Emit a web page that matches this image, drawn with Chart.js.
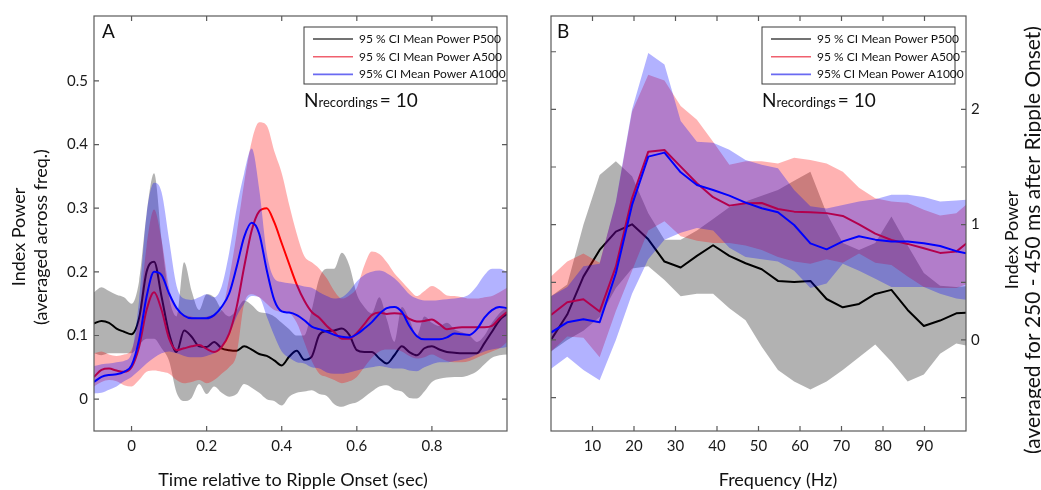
<!DOCTYPE html>
<html>
<head>
<meta charset="utf-8">
<title>Index power around ripple onset</title>
<script src="https://cdn.jsdelivr.net/npm/chart.js@4.4.1/dist/chart.umd.min.js"></script>
<style>
  html, body { margin: 0; padding: 0; background: #fff; }
  #wrap { position: relative; width: 1041px; height: 490px; overflow: hidden; }
  #timeChart { position: absolute; left: 0; top: 0; }
  #freqChart { position: absolute; left: 530px; top: 0; }
</style>
</head>
<body>
<div id="wrap">
  <canvas id="timeChart" width="530" height="490"></canvas>
  <canvas id="freqChart" width="511" height="490"></canvas>
</div>
<script>
var FONT = 'Lato, "Noto Sans", sans-serif';

var seriesNames = ['95 % CI Mean Power P500', '95 % CI Mean Power A500', '95% CI Mean Power A1000'];
var lineColors = ['#000000', '#ff0000', '#0000ff'];
var bandColors = ['rgba(0,0,0,0.3)', 'rgba(255,0,0,0.3)', 'rgba(0,0,255,0.3)'];
var legendColors = ['#454545', '#f0606e', '#6a6af2'];
var nRecordings = 10;

// A: power averaged across frequencies, vs time from ripple onset
var timeSec = [-0.10, -0.08, -0.06, -0.04, -0.02, 0, 0.02, 0.04, 0.06, 0.08,
  0.10, 0.12, 0.14, 0.16, 0.18, 0.20, 0.22, 0.24, 0.26, 0.28,
  0.30, 0.32, 0.34, 0.36, 0.38, 0.40, 0.42, 0.44, 0.46, 0.48,
  0.50, 0.52, 0.54, 0.56, 0.58, 0.60, 0.62, 0.64, 0.66, 0.68,
  0.70, 0.72, 0.74, 0.76, 0.78, 0.80, 0.82, 0.84, 0.86, 0.88,
  0.90, 0.92, 0.94, 0.96, 0.98, 1.00];

var p500Time = [0.119, 0.123, 0.120, 0.111, 0.106, 0.102, 0.127, 0.200, 0.216, 0.161,
  0.103, 0.074, 0.108, 0.098, 0.083, 0.082, 0.090, 0.080, 0.077, 0.076,
  0.083, 0.078, 0.071, 0.068, 0.061, 0.053, 0.067, 0.076, 0.062, 0.067,
  0.101, 0.107, 0.108, 0.111, 0.101, 0.077, 0.074, 0.074, 0.064, 0.056,
  0.069, 0.083, 0.074, 0.069, 0.080, 0.083, 0.078, 0.074, 0.073, 0.072,
  0.072, 0.072, 0.088, 0.106, 0.124, 0.134];
var p500TimeHi = [0.168, 0.176, 0.170, 0.164, 0.160, 0.150, 0.185, 0.290, 0.355, 0.250,
  0.160, 0.130, 0.215, 0.170, 0.140, 0.165, 0.160, 0.140, 0.130, 0.140,
  0.155, 0.148, 0.137, 0.135, 0.130, 0.120, 0.110, 0.100, 0.100, 0.140,
  0.190, 0.205, 0.205, 0.230, 0.210, 0.165, 0.145, 0.135, 0.160, 0.125,
  0.090, 0.145, 0.125, 0.100, 0.130, 0.120, 0.115, 0.120, 0.110, 0.105,
  0.100, 0.090, 0.100, 0.120, 0.135, 0.145];
var p500TimeLo = [0.072, 0.069, 0.072, 0.072, 0.072, 0.072, 0.085, 0.095, 0.095, 0.080,
  0.060, 0.010, -0.003, 0.002, 0.024, 0.008, 0.020, 0.010, 0.004, 0.008,
  0.024, 0.018, 0.010, 0.000, -0.003, -0.010, 0.004, 0.010, 0.012, 0.014,
  0.008, 0.005, -0.008, -0.012, -0.008, -0.005, 0.003, 0.012, 0.020, 0.022,
  0.015, 0.012, 0.002, 0.001, 0.012, 0.027, 0.032, 0.034, 0.035, 0.035,
  0.038, 0.044, 0.055, 0.065, 0.069, 0.070];

var a500Time = [0.035, 0.046, 0.048, 0.045, 0.043, 0.050, 0.082, 0.140, 0.168, 0.140,
  0.095, 0.077, 0.080, 0.083, 0.085, 0.079, 0.074, 0.082, 0.103, 0.145,
  0.208, 0.265, 0.295, 0.300, 0.278, 0.245, 0.212, 0.180, 0.155, 0.137,
  0.128, 0.115, 0.105, 0.095, 0.095, 0.104, 0.118, 0.132, 0.136, 0.134,
  0.135, 0.134, 0.126, 0.122, 0.123, 0.125, 0.118, 0.110, 0.112, 0.113,
  0.113, 0.113, 0.113, 0.115, 0.127, 0.137];
var a500TimeHi = [0.072, 0.075, 0.070, 0.068, 0.070, 0.078, 0.130, 0.240, 0.298, 0.250,
  0.175, 0.140, 0.133, 0.130, 0.128, 0.130, 0.133, 0.140, 0.190, 0.260,
  0.340, 0.405, 0.435, 0.430, 0.390, 0.355, 0.305, 0.260, 0.225, 0.215,
  0.205, 0.190, 0.170, 0.158, 0.163, 0.175, 0.210, 0.232, 0.228, 0.215,
  0.198, 0.185, 0.172, 0.162, 0.170, 0.178, 0.172, 0.163, 0.162, 0.160,
  0.158, 0.158, 0.160, 0.162, 0.168, 0.175];
var a500TimeLo = [0.020, 0.027, 0.030, 0.028, 0.022, 0.020, 0.030, 0.043, 0.045, 0.043,
  0.040, 0.030, 0.025, 0.027, 0.030, 0.025, 0.030, 0.040, 0.050, 0.070,
  0.150, 0.165, 0.160, 0.150, 0.140, 0.137, 0.135, 0.120, 0.090, 0.060,
  0.040, 0.035, 0.030, 0.025, 0.028, 0.035, 0.050, 0.065, 0.075, 0.078,
  0.078, 0.075, 0.068, 0.064, 0.066, 0.070, 0.065, 0.060, 0.058, 0.058,
  0.060, 0.065, 0.070, 0.075, 0.080, 0.090];

var a1000Time = [0.027, 0.035, 0.038, 0.039, 0.043, 0.053, 0.093, 0.161, 0.200, 0.195,
  0.166, 0.143, 0.131, 0.127, 0.127, 0.127, 0.132, 0.145, 0.166, 0.208,
  0.255, 0.277, 0.260, 0.203, 0.156, 0.138, 0.136, 0.132, 0.124, 0.114,
  0.110, 0.106, 0.101, 0.098, 0.097, 0.102, 0.111, 0.121, 0.134, 0.143,
  0.145, 0.137, 0.115, 0.099, 0.094, 0.094, 0.094, 0.097, 0.103, 0.102,
  0.101, 0.110, 0.128, 0.140, 0.145, 0.143];
var a1000TimeHi = [0.052, 0.055, 0.056, 0.058, 0.060, 0.072, 0.155, 0.290, 0.340, 0.325,
  0.250, 0.178, 0.158, 0.156, 0.160, 0.165, 0.160, 0.177, 0.230, 0.300,
  0.355, 0.394, 0.330, 0.230, 0.190, 0.184, 0.182, 0.180, 0.177, 0.175,
  0.168, 0.162, 0.158, 0.160, 0.170, 0.185, 0.195, 0.200, 0.202, 0.198,
  0.190, 0.178, 0.165, 0.158, 0.155, 0.155, 0.156, 0.157, 0.158, 0.160,
  0.165, 0.178, 0.195, 0.205, 0.205, 0.200];
var a1000TimeLo = [0.009, 0.010, 0.015, 0.020, 0.028, 0.035, 0.045, 0.056, 0.065, 0.072,
  0.075, 0.072, 0.068, 0.066, 0.066, 0.068, 0.072, 0.080, 0.100, 0.130,
  0.150, 0.162, 0.160, 0.130, 0.100, 0.075, 0.065, 0.058, 0.056, 0.050,
  0.048, 0.042, 0.040, 0.040, 0.042, 0.045, 0.048, 0.050, 0.052, 0.050,
  0.048, 0.048, 0.045, 0.044, 0.050, 0.055, 0.058, 0.058, 0.060, 0.062,
  0.065, 0.070, 0.075, 0.078, 0.080, 0.082];

// B: power 250-450 ms after onset, per frequency bin
var freqHz = [0, 3.91, 7.81, 11.72, 15.63, 19.53, 23.44, 27.34, 31.25, 35.16,
  39.06, 42.97, 46.88, 50.78, 54.69, 58.59, 62.5, 66.41, 70.31, 74.22,
  78.13, 82.03, 85.94, 89.84, 93.75, 97.66, 101.56];

var p500Freq = [0, 0.22, 0.549, 0.781, 0.94, 1.003, 0.873, 0.68, 0.628, 0.729,
  0.821, 0.729, 0.665, 0.613, 0.512, 0.503, 0.512, 0.355, 0.283, 0.312,
  0.399, 0.434, 0.26, 0.121, 0.168, 0.231, 0.24];
var p500FreqHi = [0.38, 0.48, 1.0, 1.43, 1.55, 1.42, 1.1, 0.87, 0.87, 0.95,
  1.05, 1.15, 1.2, 1.25, 1.3, 1.38, 1.46, 1.1, 0.84, 0.78,
  0.84, 1.07, 0.82, 0.58, 0.47, 0.46, 0.47];
var p500FreqLo = [-0.1, 0.0, 0.08, 0.2, 0.45, 0.62, 0.64, 0.52, 0.38, 0.4,
  0.4, 0.275, 0.17, -0.06, -0.26, -0.36, -0.43, -0.36, -0.26, -0.15,
  -0.04, -0.19, -0.36, -0.3, -0.12, -0.03, -0.06];

var a500Freq = [0.217, 0.327, 0.353, 0.246, 0.636, 1.229, 1.633, 1.648, 1.503, 1.359,
  1.238, 1.165, 1.185, 1.188, 1.136, 1.113, 1.108, 1.1, 1.076, 1.003,
  0.922, 0.867, 0.833, 0.795, 0.755, 0.766, 0.88];
var a500FreqHi = [0.55, 0.68, 0.75, 0.67, 1.19, 1.98, 2.3, 2.25, 2.03, 1.91,
  1.72, 1.52, 1.55, 1.55, 1.53, 1.58, 1.56, 1.53, 1.46, 1.32,
  1.23, 1.2, 1.19, 1.13, 1.08, 1.1, 1.22];
var a500FreqLo = [-0.1, 0.03, 0.02, -0.15, 0.25, 0.6, 0.95, 1.03, 0.9, 0.86,
  0.84, 0.84, 0.82, 0.78, 0.72, 0.68, 0.66, 0.7, 0.67, 0.75,
  0.67, 0.65, 0.55, 0.46, 0.45, 0.45, 0.5];

var a1000Freq = [0.064, 0.153, 0.179, 0.153, 0.578, 1.171, 1.59, 1.625, 1.454, 1.344,
  1.301, 1.252, 1.191, 1.142, 1.107, 0.997, 0.838, 0.786, 0.855, 0.9,
  0.87, 0.853, 0.853, 0.838, 0.815, 0.77, 0.74];
var a1000FreqHi = [0.38, 0.46, 0.64, 0.66, 1.2, 2.0, 2.49, 2.39, 1.9, 1.72,
  1.71, 1.65, 1.56, 1.52, 1.49, 1.3, 1.16, 1.14, 1.17, 1.2,
  1.22, 1.26, 1.26, 1.24, 1.2, 1.21, 1.22];
var a1000FreqLo = [-0.25, -0.145, -0.26, -0.35, 0.0, 0.4, 0.7, 0.87, 0.93, 0.97,
  0.95, 0.8, 0.72, 0.7, 0.68, 0.6, 0.45, 0.49, 0.66, 0.6,
  0.53, 0.46, 0.46, 0.46, 0.4, 0.36, 0.34];

// tick positions
var timeTicks = [0, 0.2, 0.4, 0.6, 0.8];
var timePowerTicks = [0, 0.1, 0.2, 0.3, 0.4, 0.5];
var freqTicks = [10, 20, 30, 40, 50, 60, 70, 80, 90];
var freqPowerTicks = [-0.5, 0, 0.5, 1, 1.5, 2, 2.5];

function pts(xs, ys) {
    return xs.map(function(x, i) { return {x: x, y: ys[i]}; });
}

// mean line + shaded CI band per series; later series sit on top
function buildDatasets(xs, groups, smooth) {
    var sets = [];
    groups.forEach(function(g, s) {
        var base = sets.length;
        var depth = (groups.length - 1 - s) * 2;
        sets.push({ label: seriesNames[s], data: pts(xs, g[0]), borderColor: lineColors[s],
            borderWidth: 2, order: depth + 1, legendColor: legendColors[s] });
        sets.push({ label: seriesNames[s] + ' upper', data: pts(xs, g[1]), borderColor: 'transparent',
            backgroundColor: bandColors[s], borderWidth: 1, fill: base + 2, order: depth + 2, band: true });
        sets.push({ label: seriesNames[s] + ' lower', data: pts(xs, g[2]), borderColor: 'transparent',
            borderWidth: 1, fill: false, order: 20, band: true });
    });
    sets.forEach(function(d) {
        d.pointRadius = 0;
        d.clip = 0;
        d.borderJoinStyle = 'round';
        if (smooth) d.cubicInterpolationMode = 'monotone';
        else d.tension = 0;
    });
    return sets;
}

function drawRotated(ctx, text, x, y) {
    ctx.save();
    ctx.translate(x, y);
    ctx.rotate(-Math.PI / 2);
    ctx.fillText(text, 0, 0);
    ctx.restore();
}

// box, inward ticks, panel letter, legend, N label and axis titles
var panelDecor = {
    id: 'panelDecor',
    afterDraw: function(chart, args, o) {
        var ctx = chart.ctx, a = chart.chartArea;
        var xs = chart.scales.x, ys = chart.scales.y;
        ctx.save();

        ctx.strokeStyle = '#5a5a5a';
        ctx.lineWidth = 1.2;
        ctx.strokeRect(a.left, a.top, a.right - a.left, a.bottom - a.top);
        ctx.beginPath();
        xs.ticks.forEach(function(t) {
            var p = xs.getPixelForValue(t.value);
            ctx.moveTo(p, a.bottom); ctx.lineTo(p, a.bottom - 5);
            ctx.moveTo(p, a.top); ctx.lineTo(p, a.top + 5);
        });
        ys.ticks.forEach(function(t) {
            var p = ys.getPixelForValue(t.value);
            ctx.moveTo(a.left, p); ctx.lineTo(a.left + 5, p);
            ctx.moveTo(a.right, p); ctx.lineTo(a.right - 5, p);
        });
        ctx.stroke();

        ctx.fillStyle = '#111';
        ctx.textAlign = 'left';
        ctx.textBaseline = 'alphabetic';
        ctx.font = '19px ' + FONT;
        ctx.fillText(o.letter, a.left + o.letterDx, a.top + 22);

        // legend
        var lw = 193, lh = 57;
        var lx = a.right - o.legendRight - lw, ly = a.top + 11;
        ctx.fillStyle = '#fff';
        ctx.fillRect(lx, ly, lw, lh);
        ctx.strokeStyle = '#3a3a3a';
        ctx.lineWidth = 1;
        ctx.strokeRect(lx, ly, lw, lh);
        ctx.font = '12px ' + FONT;
        ctx.textBaseline = 'middle';
        chart.data.datasets.filter(function(d) { return !d.band; }).forEach(function(d, i) {
            var y = ly + 12 + i * 17.7;
            ctx.strokeStyle = d.legendColor;
            ctx.lineWidth = 1.6;
            ctx.beginPath(); ctx.moveTo(lx + 9, y); ctx.lineTo(lx + 49, y); ctx.stroke();
            ctx.fillStyle = '#111';
            ctx.fillText(d.label, lx + 55, y);
        });

        // N recordings
        ctx.textBaseline = 'alphabetic';
        var nx = lx, ny = a.top + 91;
        ctx.font = '19px ' + FONT;
        ctx.fillText('N', nx, ny);
        nx += ctx.measureText('N').width;
        ctx.font = '13px ' + FONT;
        ctx.fillText('recordings', nx, ny);
        nx += ctx.measureText('recordings').width + 2;
        ctx.font = '19px ' + FONT;
        ctx.fillText('= ' + nRecordings, nx, ny);

        // axis titles
        ctx.font = '18px ' + FONT;
        ctx.textAlign = 'center';
        ctx.textBaseline = 'middle';
        ctx.fillText(o.xTitle, o.xTitleX, 480);
        o.yTitle.forEach(function(line, i) {
            ctx.font = o.yTitleSize[i] + 'px ' + FONT;
            drawRotated(ctx, line, o.yTitleX[i], o.yTitleY);
        });
        ctx.restore();
    }
};

function axisFont() { return { size: 15, family: FONT }; }

var timeChart = new Chart(document.getElementById('timeChart'), {
    type: 'line',
    data: {
        datasets: buildDatasets(timeSec, [
            [p500Time, p500TimeHi, p500TimeLo],
            [a500Time, a500TimeHi, a500TimeLo],
            [a1000Time, a1000TimeHi, a1000TimeLo]
        ], true)
    },
    options: {
        responsive: false,
        devicePixelRatio: 1,
        animation: false,
        events: [],
        layout: { padding: { left: 0, right: 23, top: 16, bottom: 0 } },
        scales: {
            x: {
                type: 'linear', min: -0.1, max: 1.0,
                afterBuildTicks: function(s) { s.ticks = timeTicks.map(function(v) { return {value: v}; }); },
                afterFit: function(s) { s.height = 59; },
                grid: { display: false, drawTicks: false },
                border: { display: false },
                ticks: { autoSkip: false, maxRotation: 0, padding: 6, color: '#1a1a1a', font: axisFont(),
                    callback: function(v) { return String(v); } }
            },
            y: {
                type: 'linear', min: -0.05, max: 0.602,
                afterBuildTicks: function(s) { s.ticks = timePowerTicks.map(function(v) { return {value: v}; }); },
                afterFit: function(s) { s.width = 94; },
                grid: { display: false, drawTicks: false },
                border: { display: false },
                ticks: { padding: 6, color: '#1a1a1a', font: axisFont(),
                    callback: function(v) { return String(v); } }
            }
        },
        plugins: {
            legend: { display: false },
            tooltip: { enabled: false },
            panelDecor: {
                letter: 'A', letterDx: 8, legendRight: 10,
                xTitle: 'Time relative to Ripple Onset (sec)', xTitleX: 293,
                yTitle: ['Index Power', '(averaged across freq.)'], yTitleSize: [18, 18],
                yTitleX: [19, 41], yTitleY: 237
            }
        }
    },
    plugins: [panelDecor]
});

var freqChart = new Chart(document.getElementById('freqChart'), {
    type: 'line',
    data: {
        datasets: buildDatasets(freqHz, [
            [p500Freq, p500FreqHi, p500FreqLo],
            [a500Freq, a500FreqHi, a500FreqLo],
            [a1000Freq, a1000FreqHi, a1000FreqLo]
        ], false)
    },
    options: {
        responsive: false,
        devicePixelRatio: 1,
        animation: false,
        events: [],
        layout: { padding: { left: 21, right: 0, top: 16, bottom: 0 } },
        scales: {
            x: {
                type: 'linear', min: 0, max: 100,
                afterBuildTicks: function(s) { s.ticks = freqTicks.map(function(v) { return {value: v}; }); },
                afterFit: function(s) { s.height = 59; },
                grid: { display: false, drawTicks: false },
                border: { display: false },
                ticks: { autoSkip: false, maxRotation: 0, padding: 6, color: '#1a1a1a', font: axisFont(),
                    callback: function(v) { return String(v); } }
            },
            y: {
                type: 'linear', position: 'right', min: -0.79, max: 2.81,
                afterBuildTicks: function(s) { s.ticks = freqPowerTicks.map(function(v) { return {value: v}; }); },
                afterFit: function(s) { s.width = 75; },
                grid: { display: false, drawTicks: false },
                border: { display: false },
                ticks: { padding: 5, color: '#1a1a1a', font: axisFont(),
                    callback: function(v) { return Number.isInteger(v) ? String(v) : ''; } }
            }
        },
        plugins: {
            legend: { display: false },
            tooltip: { enabled: false },
            panelDecor: {
                letter: 'B', letterDx: 6, legendRight: 11,
                xTitle: 'Frequency (Hz)', xTitleX: 248,
                yTitle: ['Index Power', '(averaged for 250 - 450 ms after Ripple Onset)'], yTitleSize: [18, 21],
                yTitleX: [482, 503], yTitleY: 240
            }
        }
    },
    plugins: [panelDecor]
});
</script>
</body>
</html>
